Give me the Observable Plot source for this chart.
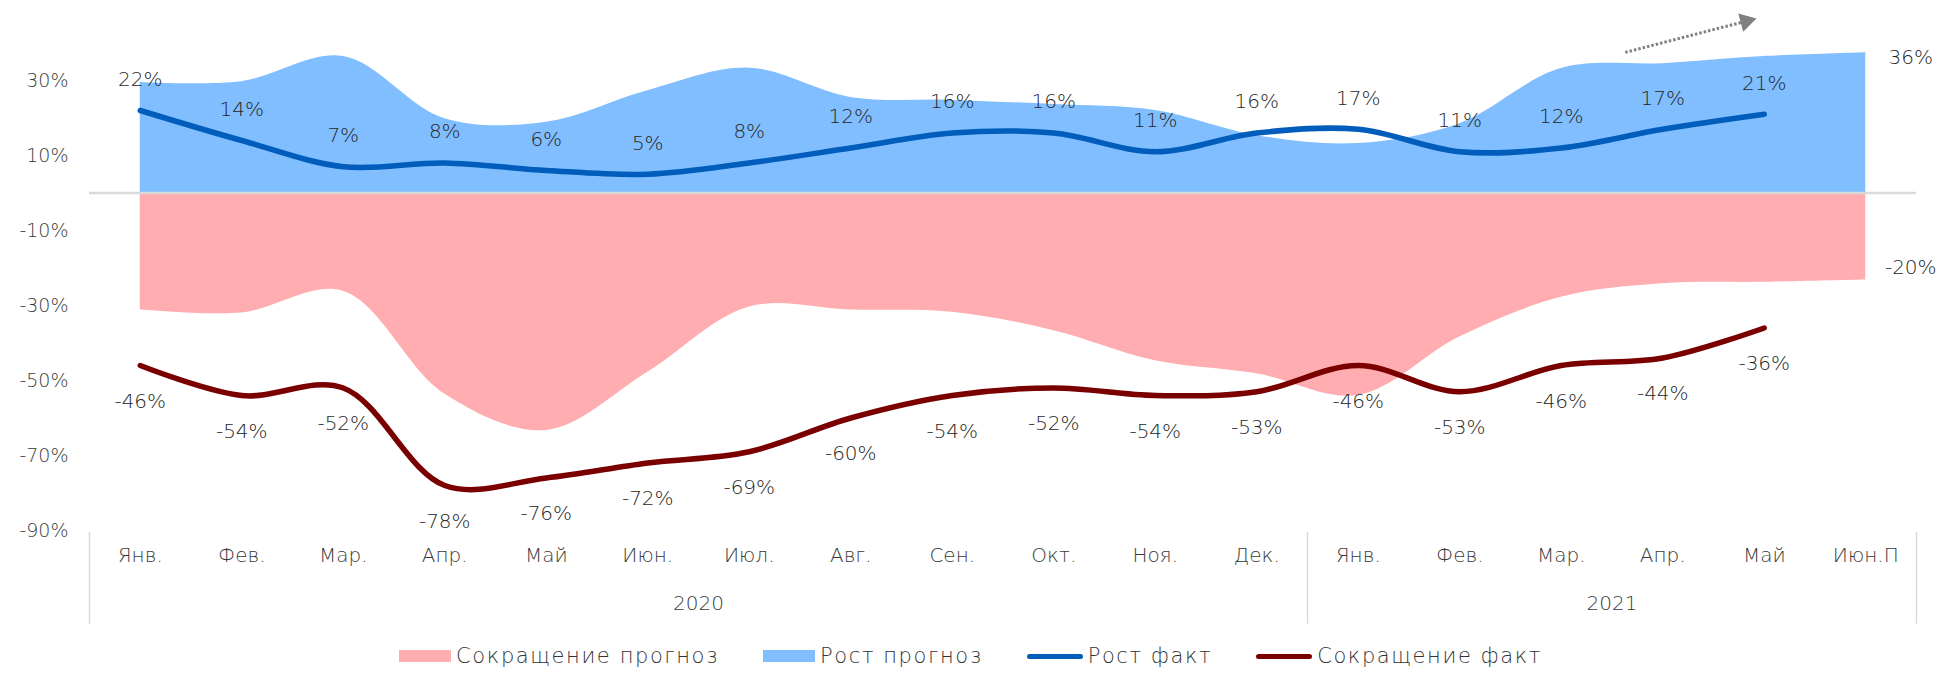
<!DOCTYPE html>
<html>
<head>
<meta charset="utf-8">
<script src="https://cdn.jsdelivr.net/npm/d3@7"></script>
<script src="https://cdn.jsdelivr.net/npm/@observablehq/plot@0.6"></script>
<style>
  html, body { margin: 0; padding: 0; background: #fff; }
  body { width: 1941px; height: 674px; overflow: hidden; font-family: "DejaVu Sans", Lato, sans-serif; }
  #legend { height: 40px; display: flex; justify-content: center; align-items: center; font-size: 21px; font-weight: 200; letter-spacing: 1.6px; color: #333; margin-top: 2px; }
  .item { display: flex; align-items: center; margin: 0 22px; }
  .sw { display: inline-block; margin-right: 5px; }
  svg text { font-weight: 200; }
</style>
</head>
<body>
<div id="chart"></div>
<div id="legend"></div>
<script>
// ---- data ----
const months = ["Янв.","Фев.","Мар.","Апр.","Май","Июн.","Июл.","Авг.","Сен.","Окт.","Ноя.","Дек.","Янв.","Фев.","Мар.","Апр.","Май","Июн.П"];
const yearGroups = [
  {year: "2020", first: 0, last: 11},
  {year: "2021", first: 12, last: 17}
];
// forecast areas (%)
const growthForecast  = [29.5, 29.7, 36.4, 19.8, 18.9, 27.3, 33.3, 25.5, 24.7, 23.6, 22.0, 15.3, 13.2, 18.5, 33.2, 34.5, 36.4, 37.4];
const declineForecast = [-31.1, -32.0, -26.2, -53.6, -63.3, -47.8, -30.4, -31.2, -31.8, -36.7, -44.7, -48.2, -54.0, -38.4, -27.8, -24.2, -23.8, -23.2];
// actual lines (%)
const growthFact  = [22, 14, 7, 8, 6, 5, 8, 12, 16, 16, 11, 16, 17, 11, 12, 17, 21];
const declineFact = [-46, -54, -52, -78, -76, -72, -69, -60, -54, -52, -54, -53, -46, -53, -46, -44, -36];
// labels at the end of the forecast
const forecastEndLabels = [{value: 36, text: "36%"}, {value: -20, text: "-20%"}];
// trend arrow annotation (x in month index, y in %)
const trendArrow = [{x1: 14.63, y1: 37.5, x2: 15.82, y2: 45.8}];
const yTicks = [30, 10, -10, -30, -50, -70, -90];

const colors = {
  declineForecast: "#FFADB0",
  growthForecast: "#80BEFF",
  growthFact: "#005DBB",
  declineFact: "#7A0000"
};
const legendItems = [
  {label: "Сокращение прогноз", key: "declineForecast", kind: "area"},
  {label: "Рост прогноз", key: "growthForecast", kind: "area"},
  {label: "Рост факт", key: "growthFact", kind: "line"},
  {label: "Сокращение факт", key: "declineFact", kind: "line"}
];

const idx = (d, i) => i;
const separators = [yearGroups[0].first - 0.5, ...yearGroups.map(g => g.last + 0.5)];
const FONT = "'DejaVu Sans', Lato, sans-serif";
const LABEL = "#262626", AXIS = "#3a3a3a";

const plot = Plot.plot({
  width: 1941,
  height: 634,
  marginLeft: 89,
  marginRight: 25,
  marginTop: 42.5,
  marginBottom: 104,
  style: {fontFamily: FONT, color: AXIS, background: "#fff", overflow: "visible"},
  x: {domain: [-0.5, months.length - 0.5], axis: null},
  y: {domain: [-90, 40], axis: null},
  marks: [
    Plot.areaY(declineForecast, {x: idx, y: d => d, curve: "catmull-rom", fill: colors.declineForecast}),
    Plot.areaY(growthForecast, {x: idx, y: d => d, curve: "catmull-rom", fill: colors.growthForecast}),
    Plot.ruleY([0], {stroke: "#d9d9d9", strokeWidth: 2.5}),
    Plot.axisY({ticks: yTicks, tickFormat: d => d + "%", tickSize: 0, tickPadding: 21, fontSize: 19, fill: AXIS}),
    Plot.line(growthFact, {x: idx, y: d => d, curve: "catmull-rom", stroke: colors.growthFact, strokeWidth: 5.5, strokeLinecap: "round"}),
    Plot.line(declineFact, {x: idx, y: d => d, curve: "catmull-rom", stroke: colors.declineFact, strokeWidth: 5.5, strokeLinecap: "round"}),
    Plot.text(growthFact, {x: idx, y: d => d, text: d => d + "%", dy: -31, fontSize: 20, fill: LABEL}),
    Plot.text(declineFact, {x: idx, y: d => d, text: d => d + "%", dy: 36, fontSize: 20, fill: LABEL}),
    Plot.text(forecastEndLabels, {x: months.length - 1, y: "value", text: "text", dx: 45, fontSize: 20, fill: LABEL}),
    // category axis
    Plot.text(months, {x: idx, text: d => d, frameAnchor: "bottom", dy: 31, fontSize: 20, fill: AXIS}),
    Plot.text(yearGroups, {x: g => (g.first + g.last) / 2, text: "year", frameAnchor: "bottom", dy: 79, fontSize: 20, fill: AXIS}),
    Plot.ruleX(separators, {y1: -90.5, y2: -115, stroke: "#d9d9d9", strokeWidth: 1.5}),
    // trend arrow
    Plot.link(trendArrow, {x1: "x1", y1: "y1", x2: "x2", y2: "y2", stroke: "#808080", strokeWidth: 3, strokeDasharray: "2.5,2"}),
    Plot.dot(trendArrow, {x: "x2", y: "y2", symbol: "triangle", r: 7, fill: "#808080", rotate: 75})
  ]
});
document.getElementById("chart").appendChild(plot);

const legend = document.getElementById("legend");
for (const it of legendItems) {
  const el = document.createElement("div");
  el.className = "item";
  const sw = document.createElement("span");
  sw.className = "sw";
  if (it.kind === "area") {
    sw.style.cssText = `width:52px;height:12px;background:${colors[it.key]};`;
  } else {
    sw.style.cssText = `width:56px;height:5px;border-radius:3px;background:${colors[it.key]};`;
  }
  const tx = document.createElement("span");
  tx.textContent = it.label;
  el.appendChild(sw);
  el.appendChild(tx);
  legend.appendChild(el);
}
</script>
</body>
</html>
